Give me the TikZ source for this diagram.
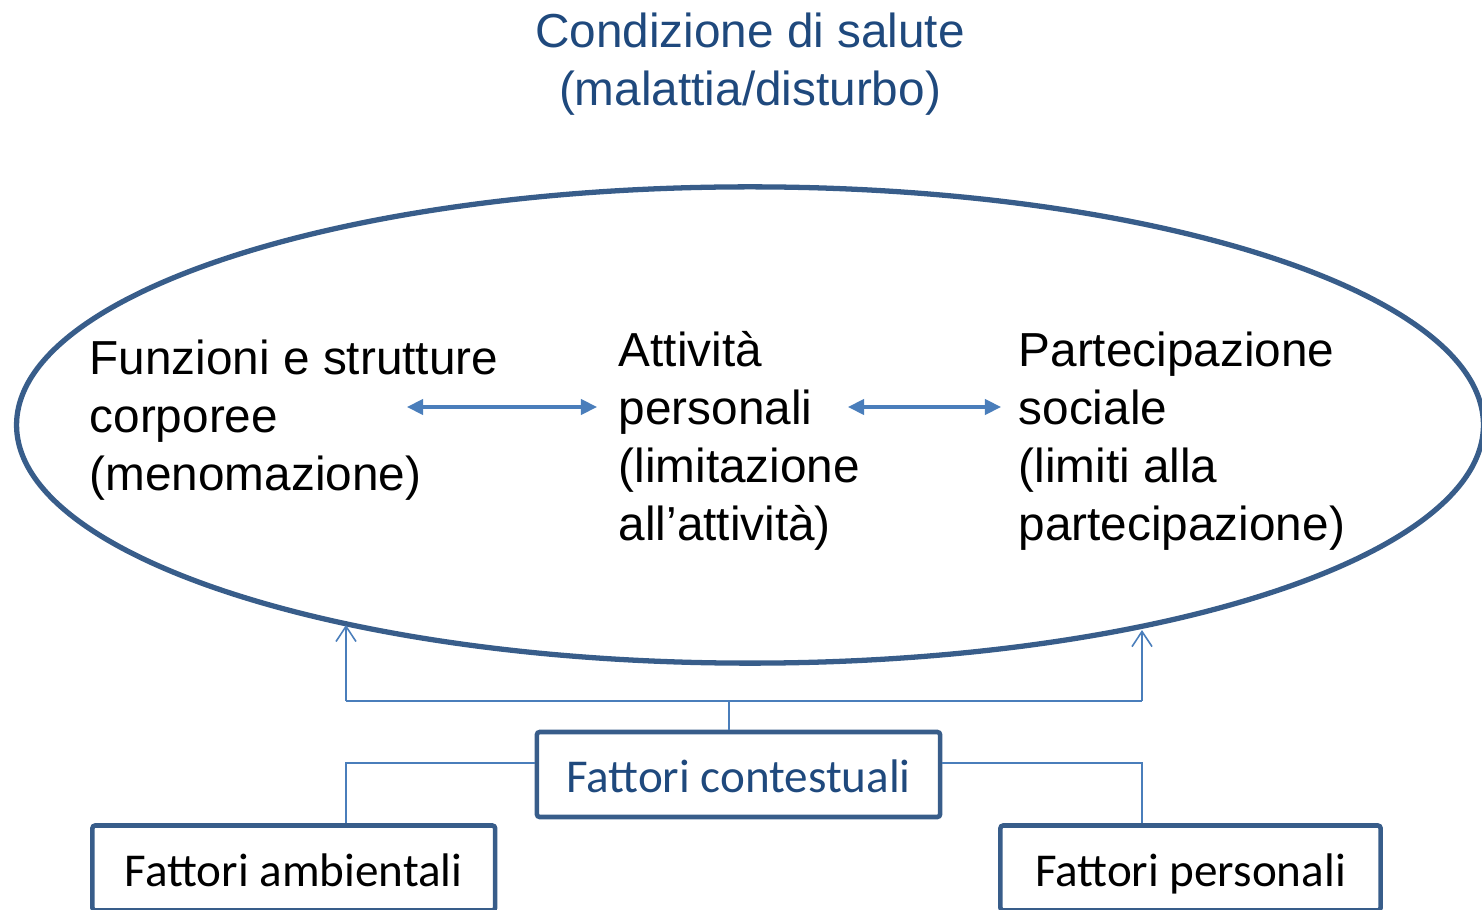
\documentclass[tikz,border=0pt]{standalone}
\usepackage{fontspec}
\setmainfont{Liberation Sans}
\newfontfamily\calibri{Carlito}
\usetikzlibrary{arrows.meta,shapes.geometric}
\definecolor{titleblue}{RGB}{31,73,125}
\definecolor{lineblue}{RGB}{56,93,138}
\definecolor{arrowblue}{RGB}{74,126,187}
\tikzset{
	bodytext/.style={align=left, anchor=base west, inner sep=0pt, font=\fontsize{13.57}{16.5}\selectfont},
	factorbox/.style={draw=lineblue, line width=1.3pt, rounded corners=0.8pt, inner sep=0pt, minimum height=0.85cm, text height=0.365cm, text depth=0cm, font=\calibri\fontsize{13.4}{16}\selectfont},
	link/.style={draw=arrowblue, line width=0.45pt},
	linktip/.style={link, -{Straight Barb[length=4.3pt,width=5.7pt]}},
	biarrow/.style={arrowblue, line width=0.9pt, {Triangle[length=4.6pt,width=4.4pt]}-{Triangle[length=4.6pt,width=4.4pt]}},
}

\begin{document}
\begin{tikzpicture}[x=0.01cm, y=-0.01cm]
	\useasboundingbox (0,0) rectangle (1482,910);
	\clip (0,0) rectangle (1482,910);
	
	%%%%% START %%%%%
	
	% base anchor sits on the last line
	\node[align=center, anchor=base, inner sep=0pt, text=titleblue, font=\fontsize{13.57}{16.5}\selectfont] (salute) at (750,106) {Condizione di salute\\(malattia/disturbo)};
	
	\node[ellipse, draw=lineblue, line width=1.5pt, minimum width=14.66cm, minimum height=4.76cm, inner sep=0pt] (icf) at (750,425) {};
	
	\node[bodytext] (funzioni) at (89,491) {Funzioni e strutture\\corporee\\(menomazione)};
	\node[bodytext] (attivita) at (618,541) {Attività\\personali\\(limitazione\\all’attività)};
	\node[bodytext] (partecip) at (1018,541) {Partecipazione\\sociale\\(limiti alla\\partecipazione)};
	
	\coordinate (fzA) at (407,407);
	\coordinate (atB) at (848,407);
	\draw[biarrow] (fzA) -- ([xshift=-0.21cm]attivita.west |- fzA);
	\draw[biarrow] (atB) -- ([xshift=-0.17cm]partecip.west |- atB);
	
	\node[factorbox, minimum width=4.03cm, text=titleblue] (contestuali) at (738.5,774.5) {Fattori contestuali};
	\node[factorbox, minimum width=4.025cm] (ambientali) at (293.75,868) {Fattori ambientali};
	\node[factorbox, minimum width=3.80cm] (personali) at (1190.5,868) {Fattori personali};
	
	% upper connector
	\coordinate (hub) at (729,701);
	\coordinate (busL) at (346,701);
	\coordinate (busR) at (1142,701);
	\draw[link] (hub |- contestuali.north) -- (hub);
	\draw[link] (busL) -- (busR);
	\draw[linktip] (busL) -- (busL |- icf.206.45);
	\draw[linktip] (busR) -- (busR |- icf.332.57);
	
	% lower connectors
	\coordinate (tieL) at (346,763);
	\coordinate (tieR) at (1142,763);
	\draw[link] (contestuali.west |- tieL) -- (tieL) -- (tieL |- ambientali.north);
	\draw[link] (contestuali.east |- tieR) -- (tieR) -- (tieR |- personali.north);
	
	%%%%% END %%%%%
\end{tikzpicture}
\end{document}
